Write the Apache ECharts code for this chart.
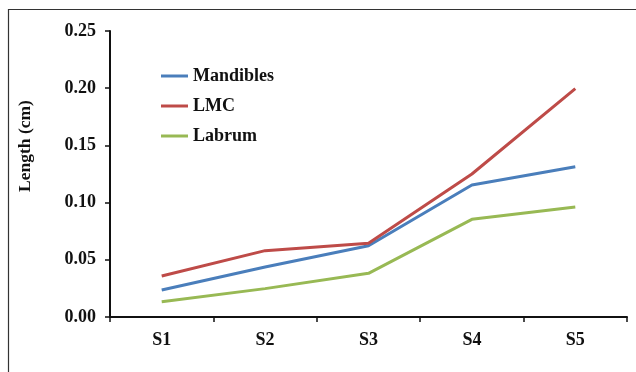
<!DOCTYPE html>
<html>
<head>
<meta charset="utf-8">
<script src="https://cdn.jsdelivr.net/npm/echarts@6/dist/echarts.min.js"></script>
<style>
  html, body { margin: 0; padding: 0; background: #fff; }
  #chart { width: 636px; height: 372px; }
</style>
</head>
<body>
<div id="chart"></div>
<script>
// Stage categories and measured lengths (cm)
const stages = ['S1', 'S2', 'S3', 'S4', 'S5'];
const mandibles = [0.0236, 0.0437, 0.0623, 0.1154, 0.1314];
const lmc = [0.0358, 0.058, 0.0644, 0.125, 0.1996];
const labrum = [0.0134, 0.0248, 0.0382, 0.0854, 0.0962];
const yTicks = { min: 0, max: 0.25, step: 0.05 };

const font = 'Liberation Serif, Times New Roman, serif';
const chart = echarts.init(document.getElementById('chart'));

const mkSeries = (name, data, color) => ({
  name, type: 'line', data,
  symbol: 'none', showSymbol: false,
  lineStyle: { width: 3, color },
  itemStyle: { color }
});

chart.setOption({
  animation: false,
  grid: { left: 110, top: 31, right: 9, bottom: 55 },
  graphic: [
    { type: 'rect', shape: { x: 8.5, y: 9.5, width: 700, height: 500 },
      style: { fill: 'none', stroke: '#333', lineWidth: 1.2 } },
    { type: 'text', x: 25, y: 146, rotation: Math.PI / 2,
      style: { text: 'Length (cm)', font: 'bold 17.5px ' + font, fill: '#111',
               textAlign: 'center', textVerticalAlign: 'middle' } }
  ],
  legend: {
    orient: 'vertical', left: 156, top: 62, padding: 5,
    icon: 'rect', itemWidth: 27, itemHeight: 3, itemGap: 12,
    textStyle: { fontFamily: font, fontWeight: 'bold', fontSize: 18, color: '#111', lineHeight: 18 }
  },
  xAxis: {
    type: 'category', data: stages,
    axisLine: { lineStyle: { color: '#111', width: 2 } },
    axisTick: { show: true, length: 5, lineStyle: { color: '#111', width: 1.5 } },
    axisLabel: { fontFamily: font, fontWeight: 'bold', fontSize: 18, color: '#111', margin: 14 },
    splitLine: { show: false }
  },
  yAxis: {
    type: 'value', min: yTicks.min, max: yTicks.max, interval: yTicks.step,
    axisLine: { show: true, lineStyle: { color: '#111', width: 2 } },
    axisTick: { show: true, length: 5, lineStyle: { color: '#111', width: 1.5 } },
    axisLabel: { fontFamily: font, fontWeight: 'bold', fontSize: 18, color: '#111', margin: 14,
                 formatter: v => v.toFixed(2) },
    splitLine: { show: false }
  },
  series: [
    mkSeries('Mandibles', mandibles, '#4a7ebb'),
    mkSeries('LMC', lmc, '#be4b48'),
    mkSeries('Labrum', labrum, '#98b954')
  ]
});
</script>
</body>
</html>
